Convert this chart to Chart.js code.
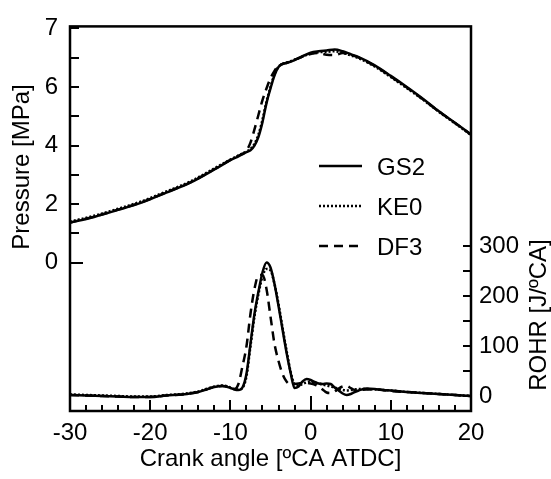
<!DOCTYPE html>
<html><head><meta charset="utf-8">
<script src="https://cdn.jsdelivr.net/npm/chart.js@4.4.0/dist/chart.umd.min.js"></script>
<style>html,body{margin:0;padding:0;background:#fff;overflow:hidden}</style>
</head><body>
<canvas id="c" width="551" height="479" style="width:551px;height:479px;display:block"></canvas>
<script>
// ---------- data ----------
const seriesNames = ['GS2', 'KE0', 'DF3'];

const pressureAngles = [-30,-27,-24,-21,-18,-15,-12,-10,-9,-8,-7.5,-7,-6.5,-6,-5.5,-5,-4.5,-4,-3.5,-3,-2,-1,0,1,2,3,4,5,6,8,10,12,14,16,18,20];
const pressureGS2 = [1.36,1.56,1.80,2.06,2.39,2.73,3.18,3.50,3.63,3.77,3.84,4.00,4.30,4.80,5.45,5.95,6.40,6.68,6.78,6.82,6.92,7.05,7.17,7.22,7.25,7.28,7.22,7.12,7.02,6.74,6.38,6.00,5.60,5.17,4.78,4.38];
const pressureKE0 = [1.40,1.60,1.84,2.10,2.43,2.77,3.22,3.52,3.66,3.80,3.88,4.06,4.38,4.88,5.50,6.00,6.43,6.69,6.79,6.83,6.93,7.04,7.14,7.19,7.20,7.22,7.17,7.08,6.98,6.70,6.34,5.96,5.57,5.15,4.76,4.36];
const pressureDF3 = [1.37,1.57,1.81,2.07,2.40,2.74,3.19,3.51,3.65,3.83,4.10,4.55,5.05,5.55,5.95,6.30,6.55,6.72,6.79,6.83,6.93,7.04,7.13,7.16,7.10,7.09,7.16,7.10,7.00,6.72,6.36,5.98,5.58,5.16,4.77,4.37];

const rohrAngles = [-30,-28,-26,-24,-22,-20,-18,-16,-14,-13,-12,-11,-10,-9.5,-9,-8.5,-8,-7.5,-7,-6.5,-6,-5.5,-5,-4.5,-4,-3.5,-3,-2.5,-2,-1.5,-1,-0.5,0,0.5,1,1.5,2,2.5,3,3.5,4,4.5,5,5.5,6,7,8,9,10,12,14,16,18,20];
const rohrGS2 = [3,2,1,0,-1,-1,2,4,9,14,19,21,17,14,13,18,45,105,165,210,248,268,258,225,181,134,88,48,17,20,30,35,33,29,26,25,26,25,18,12,6,3,5,9,12,16,15,13,12,9,7,5,3,1];
const rohrKE0 = [4,3,2,1,0,0,3,5,10,15,20,22,18,15,14,17,40,100,160,205,240,255,252,225,185,138,92,50,25,22,25,28,29,28,26,24,22,20,18,15,13,12,13,14,15,15,14,13,12,9,7,5,3,1];
const rohrDF3 = [3,2,1,0,-1,-1,2,4,9,14,19,21,18,15,25,60,100,165,215,242,243,215,160,105,71,45,30,24,25,26,27,27,26,24,20,14,8,7,10,16,20,21,17,13,13,14,14,13,11,9,7,5,3,1];

const xTickValues = [-30,-20,-10,0,10,20];
const pressureTickValues = [0,2,4,6,8];
const pressureTickLabels = ['0','2','4','6','7'];
const rohrTickValues = [0,100,200,300];

const xTitle = 'Crank angle [ºCA ATDC]';
const pTitle = 'Pressure [MPa]';
const rTitle = 'ROHR [J/ºCA]';

// ---------- styles ----------
const FONT = '"Liberation Sans", Arial, sans-serif';
const dashes = [[], [2, 2], [9, 6]];
const LW = 2.5;

function pts(xs, ys) { return xs.map((x, i) => ({x: x, y: ys[i]})); }

const pSeries = [pressureGS2, pressureKE0, pressureDF3];
const rSeries = [rohrGS2, rohrKE0, rohrDF3];
const datasets = [];
pSeries.forEach((s, i) => datasets.push({
  label: seriesNames[i] + ' pressure', data: pts(pressureAngles, s), yAxisID: 'yP',
  borderColor: '#000', borderWidth: LW, borderDash: dashes[i], pointRadius: 0,
  cubicInterpolationMode: 'monotone', fill: false
}));
rSeries.forEach((s, i) => datasets.push({
  label: seriesNames[i] + ' ROHR', data: pts(rohrAngles, s), yAxisID: 'yR',
  borderColor: '#000', borderWidth: LW, borderDash: dashes[i], pointRadius: 0,
  cubicInterpolationMode: 'monotone', fill: false
}));

const decorPlugin = {
  id: 'decor',
  afterDatasetsDraw(chart) {
    const {ctx, chartArea: a, scales} = chart;
    const sx = scales.x, sp = scales.yP, sr = scales.yR;
    ctx.save();
    ctx.strokeStyle = '#000';
    ctx.lineCap = 'butt';
    // inward ticks
    ctx.lineWidth = 2;
    ctx.beginPath();
    for (let v = -30; v <= 20; v += 2) {
      const px = Math.round(sx.getPixelForValue(v));
      let len = 6;
      if (v % 10 === 0) len = 11;
      if (v === 0) len = 15;
      ctx.moveTo(px, a.bottom); ctx.lineTo(px, a.bottom - len);
    }
    for (let v = 0; v <= 8; v += 1) {
      const py = Math.round(sp.getPixelForValue(v));
      const len = v === 0 ? 13 : 9;
      ctx.moveTo(a.left, py); ctx.lineTo(a.left + len, py);
    }
    for (let v = 0; v <= 300; v += 50) {
      const py = Math.round(sr.getPixelForValue(v));
      ctx.moveTo(a.right, py); ctx.lineTo(a.right - 8, py);
    }
    ctx.stroke();
    // frame
    ctx.lineWidth = 2.5;
    ctx.strokeRect(a.left, a.top, a.right - a.left, a.bottom - a.top);

    // legend
    const lx0 = 319, lx1 = 362, tx = 377;
    const ly = [166, 206, 246];
    ctx.font = '24px ' + FONT;
    ctx.fillStyle = '#000';
    ctx.textBaseline = 'middle';
    ctx.textAlign = 'left';
    seriesNames.forEach((n, i) => {
      ctx.lineWidth = LW;
      ctx.setLineDash(dashes[i]);
      ctx.beginPath();
      ctx.moveTo(lx0, ly[i]); ctx.lineTo(lx1, ly[i]);
      ctx.stroke();
      ctx.setLineDash([]);
      ctx.fillText(n, tx, ly[i] + 2);
    });

    // axis titles
    ctx.textAlign = 'center';
    ctx.fillText(xTitle, (a.left + a.right) / 2, 459);
    ctx.save();
    ctx.translate(22, 167);
    ctx.rotate(-Math.PI / 2);
    ctx.fillText(pTitle, 0, 0);
    ctx.restore();
    ctx.save();
    ctx.translate(539, 315);
    ctx.rotate(-Math.PI / 2);
    ctx.fillText(rTitle, 0, 0);
    ctx.restore();
    ctx.restore();
  }
};

const tickFont = {family: FONT, size: 24};

new Chart(document.getElementById('c'), {
  type: 'line',
  data: {datasets: datasets},
  options: {
    responsive: false,
    animation: false,
    devicePixelRatio: 1,
    layout: {padding: {top: 15, left: 0, right: 0, bottom: 0}},
    plugins: {legend: {display: false}, tooltip: {enabled: false}},
    scales: {
      x: {
        type: 'linear', position: 'bottom', min: -30, max: 20,
        grid: {display: false, drawTicks: false}, border: {display: false},
        ticks: {color: '#000', font: tickFont, padding: 8, maxRotation: 0, autoSkip: false},
        afterBuildTicks: s => { s.ticks = xTickValues.map(v => ({value: v})); },
        afterFit: s => { s.height = 68; }
      },
      yP: {
        type: 'linear', position: 'left', min: -5.07, max: 8.07,
        grid: {display: false, drawTicks: false}, border: {display: false},
        ticks: {color: '#000', font: tickFont, padding: 12, autoSkip: false,
          callback: v => pressureTickLabels[pressureTickValues.indexOf(v)]},
        afterBuildTicks: s => { s.ticks = pressureTickValues.map(v => ({value: v})); },
        afterFit: s => { s.width = 70; }
      },
      yR: {
        type: 'linear', position: 'right', min: -29, max: 740,
        grid: {display: false, drawTicks: false}, border: {display: false},
        ticks: {color: '#000', font: tickFont, padding: 8, autoSkip: false},
        afterBuildTicks: s => { s.ticks = rohrTickValues.map(v => ({value: v})); },
        afterFit: s => { s.width = 80; }
      }
    }
  },
  plugins: [decorPlugin]
});
</script>
</body></html>
